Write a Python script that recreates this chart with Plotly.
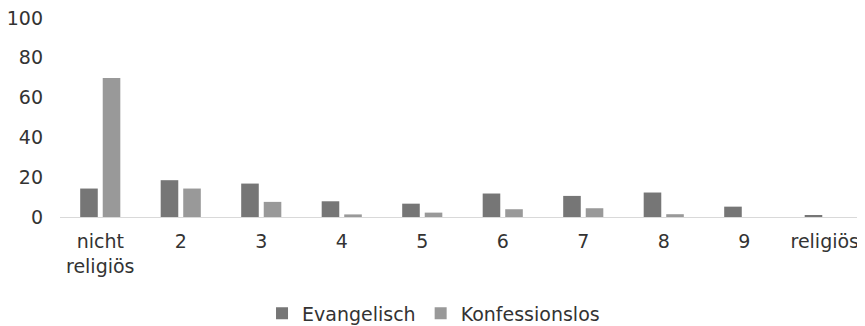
import plotly.graph_objects as go

categories = ["nicht<br>religiös", "2", "3", "4", "5", "6", "7", "8", "9", "religiös"]
evangelisch = [14.3, 18.5, 16.8, 7.9, 6.7, 11.8, 10.6, 12.3, 5.2, 1.0]
konfessionslos = [69.9, 14.3, 7.6, 1.3, 2.2, 3.9, 4.4, 1.4, 0.0, 0.0]
y_ticks = [0, 20, 40, 60, 80, 100]

FONT = "DejaVu Sans, Liberation Sans, Arial, sans-serif"

fig = go.Figure()
fig.add_trace(go.Bar(name="Evangelisch", x=categories, y=evangelisch,
                     marker=dict(color="#767676", line=dict(width=0))))
fig.add_trace(go.Bar(name="Konfessionslos", x=categories, y=konfessionslos,
                     marker=dict(color="#999999", line=dict(width=0))))

# page body has an 8px default margin, so the figure is sized to fit the window
fig.update_layout(
    width=857, height=318,
    margin=dict(l=52, r=0, t=10, b=109, autoexpand=False),
    paper_bgcolor="white", plot_bgcolor="white",
    barmode="group", bargap=0.44, bargroupgap=0.22,
    font=dict(family=FONT, size=19, color="#333333"),
    showlegend=True,
    legend=dict(orientation="h", x=0.464, xanchor="center",
                y=-0.485, yanchor="middle",
                font=dict(size=19, color="#333333"), itemwidth=30),
    xaxis=dict(showgrid=False, showline=True, linecolor="#d9d9d9", linewidth=1,
               ticks="", tickfont=dict(size=19), automargin=False,
               ticklabelstandoff=7, ticklabeloverflow="allow"),
    yaxis=dict(range=[0, 100], tickvals=y_ticks, showgrid=False, zeroline=False,
               showline=False, ticks="", ticklabelstandoff=16, tickfont=dict(size=19),
               automargin=False, ticklabeloverflow="allow"),
)

fig.write_html("out.html")
